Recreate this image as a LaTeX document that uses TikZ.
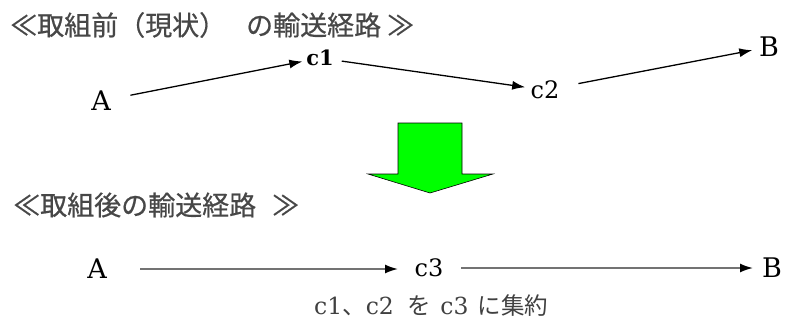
\documentclass[tikz,border=0pt]{standalone}
\usepackage{fontspec}
\setmainfont{DejaVu Serif}
\newfontfamily\cjk{Noto Sans CJK JP}
\newfontfamily\cjkt[FakeBold=0.6]{Noto Sans CJK JP}
\usetikzlibrary{arrows.meta}
\begin{document}
\begin{tikzpicture}[x=1pt,y=-1pt,
  lbl/.style={inner sep=0pt, font=\fontsize{27}{27}\selectfont},
  lblc/.style={inner sep=0pt, font=\fontsize{24}{24}\selectfont},
  lblsmall/.style={inner sep=0pt, font=\fontsize{21}{21}\selectfont\bfseries},
  ttl/.style={inner sep=0pt, anchor=west, text=black!72, font=\cjkt\fontsize{27}{27}\selectfont},
  note/.style={inner sep=0pt, anchor=west, text=black!75, font=\fontsize{23.5}{23.5}\selectfont},
  conn/.style={line width=1.3pt, -{Latex[length=13pt,width=9pt]}},
  conngray/.style={line width=1.7pt, draw=black!55, -{Latex[length=13pt,width=9pt,color=black]}},
  bigarrow/.style={fill=green, draw=black, line width=0.6pt}]
\useasboundingbox (0,0) rectangle (788,330);
% titles
\node[ttl] (t1) at (10,25) {≪取組前（現状）\hspace{20pt}の輸送経路\hspace{6pt}≫};
\node[ttl] (t2) at (13,205) {≪取組後の輸送経路\hspace{16pt}≫};
% top route
\node[lbl] (A1) at (101,101) {A};
\node[lblsmall] (c1) at (320,58) {c1};
\node[lblc] (c2) at (545,90) {c2};
\node[lbl] (B1) at (769,47) {B};
\draw[conn, shorten <=30pt, shorten >=18pt] (A1.center) -- (c1.center);
\draw[conn, shorten <=22pt, shorten >=20pt] (c1.center) -- (c2.center);
\draw[conn, shorten <=34pt, shorten >=17pt] (c2.center) -- (B1.center);
% green arrow
\draw[bigarrow] (398,123) -- (462,123) -- (462,174) -- (493,174) -- (430,193) -- (368,174) -- (398,174) -- cycle;
% bottom route
\node[lbl] (A2) at (97,269) {A};
\node[lblc] (c3) at (429,268) {c3};
\node[lbl] (B2) at (772,268) {B};
\draw[conngray, shorten <=43pt, shorten >=31pt] (A2.center) -- (A2.center -| c3.center);
\draw[conngray, shorten <=32pt, shorten >=19pt] (c3.center) -- (B2.center);
\node[note] (n) at (314,306) {c1{\cjk 、}c2\hspace{14pt}{\cjk を}\hspace{9pt}c3\hspace{9pt}{\cjk に集約}};
\end{tikzpicture}
\end{document}
